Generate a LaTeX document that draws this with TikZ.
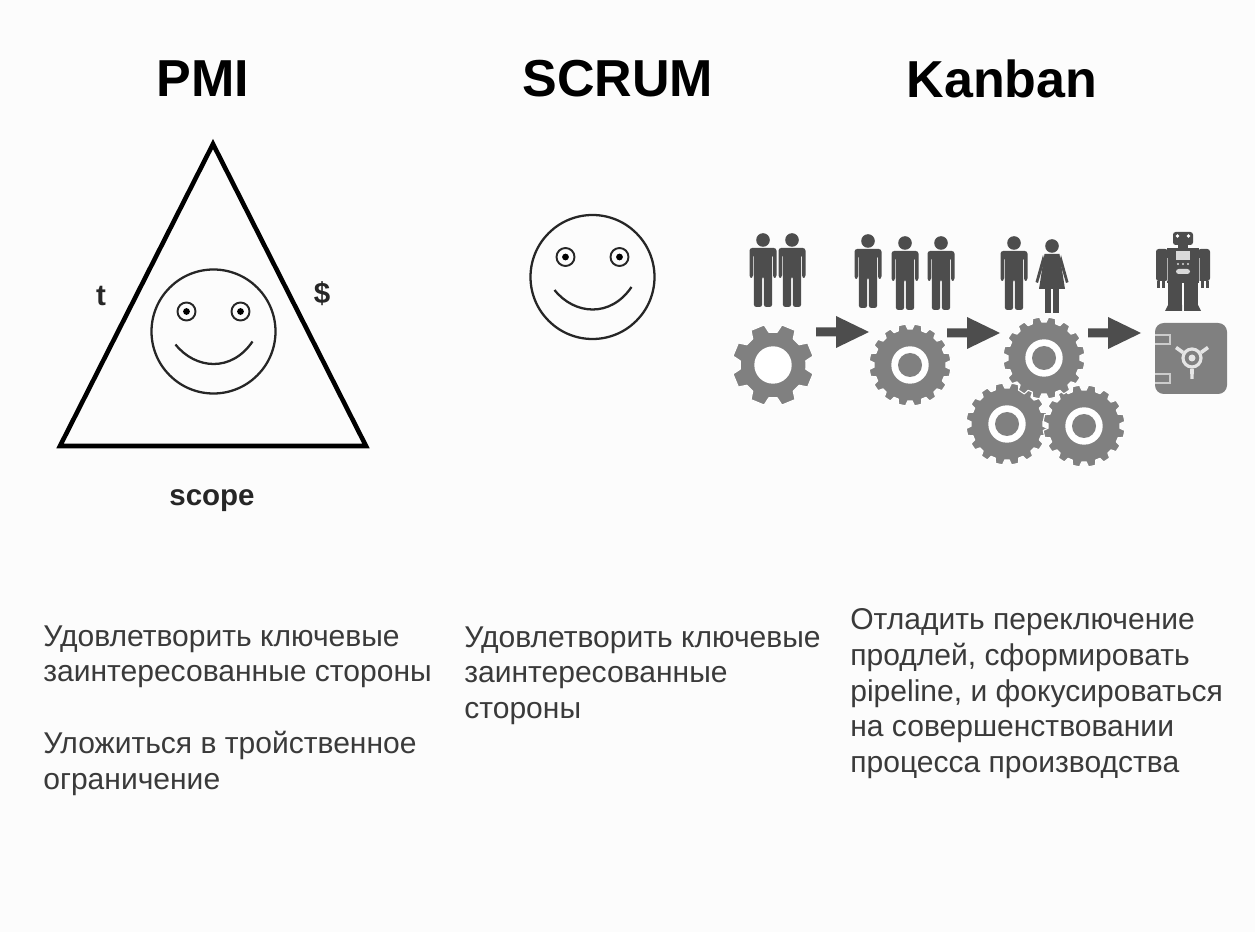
\documentclass[tikz,border=0pt]{standalone}
\usepackage{fontspec}
\setmainfont{Liberation Sans}
\usetikzlibrary{calc}
\definecolor{figdark}{HTML}{4D4D4D}
\definecolor{gearcol}{HTML}{808080}
\definecolor{txtcol}{HTML}{3A3A3A}
\tikzset{
  title/.style={font=\fontsize{29.6}{32}\selectfont\bfseries,text=black,inner sep=0pt},
  small/.style={font=\fontsize{16.8}{20}\selectfont\bfseries,text=black!85,inner sep=0pt},
  body/.style={font=\fontsize{17.1}{20.4}\selectfont,text=txtcol,inner sep=0pt,anchor=north west,align=left},
  pics/smiley/.style={code={
    \draw[line width=1.3pt,black!85] (0,0) circle (62);
    \foreach \sx in {-27,27}{
      \draw[line width=1.1pt,black!85] (\sx,-20) circle (9);
      \fill[black] (\sx,-20) circle (3.4);
    }
    \draw[line width=1.3pt,black!85] (-38,13) .. controls (-18,38) and (18,41) .. (39,10);
  }},
  pics/man/.style={code={
    \fill[figdark] (0,0) circle (6.8);
    \fill[figdark,rounded corners=1.5] (-13.5,8) -- (13.5,8) -- (13.5,38) -- (10,38) -- (10,14) -- (9.2,14)
      -- (9.2,67) -- (0.8,67) -- (0.8,36) -- (-0.8,36) -- (-0.8,67) -- (-9.2,67) -- (-9.2,14) -- (-10,14)
      -- (-10,38) -- (-13.5,38) -- cycle;
  }},
  pics/woman/.style={code={
    \fill[figdark] (0,0) circle (6.8);
    \fill[figdark] (-7.5,8) -- (7.5,8) -- (13,43) -- (-13,43) -- cycle;
    \fill[figdark] (-7,42) rectangle (-1,67);
    \fill[figdark] (1,42) rectangle (7,67);
    \fill[figdark] (9,9) -- (16.5,36) -- (14,37) -- (7.5,15) -- cycle;
    \fill[figdark] (-9,9) -- (-16.5,36) -- (-14,37) -- (-7.5,15) -- cycle;
  }},
  pics/gear/.style n args={2}{code={
    \pgfmathsetmacro\gstep{360/#1}
    \fill[gearcol,draw=white,line width=.6pt,line join=round] (0:#2)
      \foreach \a in {1,...,#1}{
        -- ({(\a-.84)*\gstep}:#2) -- ({(\a-.72)*\gstep}:41)
        -- ({(\a-.28)*\gstep}:41) -- ({(\a-.16)*\gstep}:#2)
      } -- cycle;
    \fill[white] (0,0) circle (18.7);
  }},
  pics/hub/.style={code={\fill[gearcol] (0,0) circle (12);}},
  pics/bigarrow/.style={code={
    \fill[figdark] (0,-4.5) -- (20,-4.5) -- (20,-16) -- (53,0) -- (20,16) -- (20,4.5) -- (0,4.5) -- cycle;
  }},
}
\begin{document}
\begin{tikzpicture}[x=0.02cm,y=-0.02cm]
\useasboundingbox (0,0) rectangle (1255,932);
\fill[white!99!black] (0,0) rectangle (1255,932);
% headings
\node[title] (pmi) at (203,79) {PMI};
\node[title] (scrum) at (618,79) {SCRUM};
\node[title] (kanban) at (1002,79) {Kanban};
% triangle
\draw[line width=2.6pt,black] (213,144) -- (366,446) -- (60,446) -- cycle;
\node[small] (tlabel) at (101,296) {t};
\node[small] (costlabel) at (322,294) {\$};
\node[small] (scopelabel) at (212,501) {scope};
\pic at (213.5,331.5) {smiley};
\pic at (592.5,277) {smiley};
% people
\pic at (763,240) {man};
\pic at (792,240) {man};
\pic at (868,241) {man};
\pic at (905,243) {man};
\pic at (941,243) {man};
\pic at (1014,243) {man};
\pic at (1052,246) {woman};
% gears
\pic at (773,365) {gear={8}{33}};
\pic at (910,365) {gear={16}{36}};
\pic at (910,365) {hub};
\pic at (1007,424) {gear={16}{36}};
\pic at (1007,424) {hub};
\pic at (1084,426) {gear={16}{36}};
\pic at (1084,426) {hub};
\pic at (1044,358) {gear={16}{36}};
\pic at (1044,358) {hub};
% arrows
\pic at (816,332) {bigarrow};
\pic at (947,333) {bigarrow};
\pic at (1088,333) {bigarrow};
% robot
\fill[figdark,rounded corners=1.5] (1173,232) rectangle (1193,245);
\fill[white] (1177.5,236) circle (1.8) (1188.5,236) circle (1.8);
\fill[figdark] (1178,245) rectangle (1188,249);
\fill[figdark] (1167,248) rectangle (1199,283);
\fill[figdark,rounded corners=1.5] (1156,249) rectangle (1168,281);
\fill[figdark,rounded corners=1.5] (1198,249) rectangle (1210,281);
\draw[white!70!black,line width=.4pt] (1167,258) -- (1167,281) (1199,258) -- (1199,281);
\fill[figdark] (1157,281) rectangle (1160,288);
\fill[figdark] (1162,281) rectangle (1165,288);
\fill[figdark] (1201,281) rectangle (1204,288);
\fill[figdark] (1206,281) rectangle (1209,288);
\fill[figdark] (1168,283) rectangle (1182,308);
\fill[figdark] (1184,283) rectangle (1198,308);
\fill[figdark] (1165,311) -- (1168,305) -- (1182,305) -- (1182,311) -- cycle;
\fill[figdark] (1201,311) -- (1198,305) -- (1184,305) -- (1184,311) -- cycle;
\fill[white!85!black] (1176,251) rectangle (1190,260);
\foreach \dx in {1178,1183,1188}{
  \fill[white!85!black] (\dx,264) circle (1.2);
}
\fill[white!85!black,rounded corners=1.5] (1176,269) rectangle (1190,274);
% safe
\fill[gearcol,rounded corners=5] (1155,323) rectangle (1227,394);
\draw[white!80!black,line width=.7pt] (1155,335) -- (1170,335) -- (1170,344) -- (1155,344);
\draw[white!80!black,line width=.7pt] (1155,374) -- (1170,374) -- (1170,383) -- (1155,383);
\draw[white!90!black,line width=1.8pt] (1192,358) circle (9);
\fill[white!90!black] (1192,358) circle (3.5);
\fill[white!90!black] (1175,349) -- (1177,346) -- (1184,351) -- (1182,354) -- cycle;
\fill[white!90!black] (1209,349) -- (1207,346) -- (1200,351) -- (1202,354) -- cycle;
\fill[white!90!black] (1190,369) -- (1194,369) -- (1193.5,379) -- (1190.5,379) -- cycle;
% captions
\node[body] (pmitext) at (43,625) {Удовлетворить ключевые\\заинтересованные стороны\\[20.5pt]Уложиться в тройственное\\ограничение};
\node[body] (scrumtext) at (464,626) {Удовлетворить ключевые\\заинтересованные\\стороны};
\node[body] (kanbantext) at (850,608) {Отладить переключение\\продлей, сформировать\\pipeline, и фокусироваться\\на совершенствовании\\процесса производства};
\end{tikzpicture}
\end{document}
